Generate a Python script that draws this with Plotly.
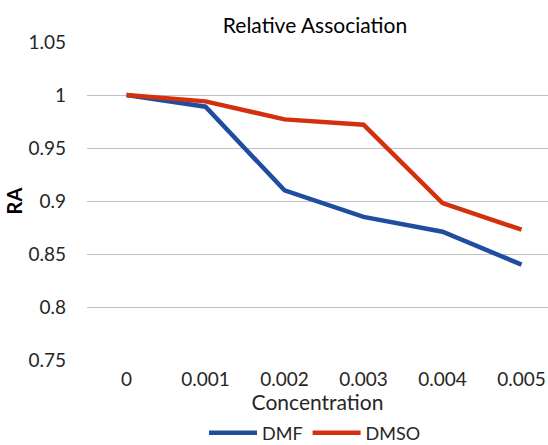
"""
Relative association vs concentration, DMF vs DMSO
"""

import plotly.graph_objects as go

concentration = ['0', '0.001', '0.002', '0.003', '0.004', '0.005']
dmf = [1.0, 0.989, 0.910, 0.885, 0.871, 0.840]
dmso = [1.0, 0.994, 0.977, 0.972, 0.898, 0.873]

FONT = "Lato"

fig = go.Figure()

fig.add_trace(go.Scatter(
    x=concentration, y=dmf, mode='lines', name='DMF',
    line=dict(color='#1F4EA0', width=4.5)
))
fig.add_trace(go.Scatter(
    x=concentration, y=dmso, mode='lines', name='DMSO',
    line=dict(color='#D3300D', width=4.5)
))

fig.update_layout(
    width=548, height=445,
    paper_bgcolor='white', plot_bgcolor='white',
    font=dict(family=FONT, color='#262626', size=19),
    title=dict(text="Relative Association", x=315 / 548, xanchor='center',
               xref='container', yref='container',
               y=1 - 26 / 445, yanchor='middle',
               font=dict(family=FONT, size=21, color='black')),
    margin=dict(l=87, r=0, t=42, b=85, autoexpand=False),
    legend=dict(orientation='h', xref='container', x=315 / 548, xanchor='center',
                yref='container', y=1 - 433 / 445, yanchor='middle',
                font=dict(size=18), itemwidth=48),
    showlegend=True,
)

fig.update_xaxes(
    type='category', range=[-0.5, 5.335], automargin=False,
    showgrid=False, showline=False, ticks='', ticklabelstandoff=6,
    tickfont=dict(size=19),
    title=dict(text="Concentration", font=dict(size=21), standoff=2),
)
fig.update_yaxes(
    range=[0.75, 1.05], automargin=False,
    tickvals=[0.75, 0.8, 0.85, 0.9, 0.95, 1, 1.05],
    ticktext=['0.75', '0.8', '0.85', '0.9', '0.95', '1', '1.05'],
    showgrid=True, gridcolor='#C0C0C0', gridwidth=1,
    zeroline=False, showline=False, ticks='', ticklabelstandoff=20,
    tickfont=dict(size=19),
    title=dict(text="<b>RA</b>", font=dict(size=20, color='black'), standoff=0),
)

fig.write_html("out.html", config={'displayModeBar': False},
               post_script="document.body.style.margin='0';")
